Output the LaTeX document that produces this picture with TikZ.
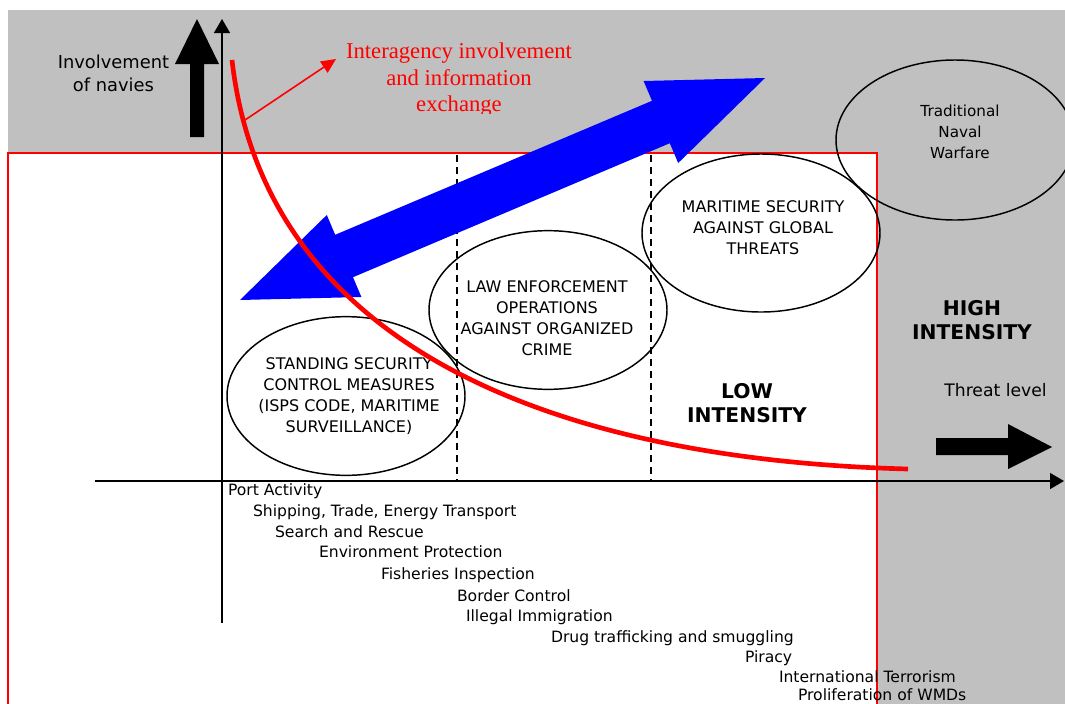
\documentclass[tikz,border=0pt]{standalone}
\usepackage{fontspec}
\setmainfont{DejaVu Sans}
\newfontfamily\redserif{Liberation Serif}
\usetikzlibrary{arrows.meta,shapes.geometric}
\definecolor{bggray}{RGB}{192,192,192}
\definecolor{pureblue}{RGB}{0,0,255}
\definecolor{purered}{RGB}{255,0,0}
\begin{document}
\begin{tikzpicture}[x=0.75pt,y=-0.75pt,
  every node/.style={inner sep=0pt,outer sep=0pt},
  ellnode/.style={draw=black,line width=1.1pt,ellipse,minimum width=178.5pt,minimum height=119pt,inner sep=0pt},
  elltext/.style={align=center,font=\fontsize{12}{15.75}\selectfont},
  listtext/.style={anchor=base west,font=\fontsize{11.7}{14}\selectfont},
  boldtext/.style={align=center,font=\bfseries\fontsize{15.2}{18.5}\selectfont},
  axisline/.style={line width=1.1pt,-{Triangle[length=10.5pt,width=12pt]}},
  dashline/.style={line width=1.1pt,dash pattern=on 5pt off 4pt},
  redborder/.style={draw=purered,line width=1.5pt},
]
\useasboundingbox (0,0) rectangle (1065,704);
% backgrounds
\fill[bggray] (8,10) rectangle (1065,704);
\fill[white] (8,153) rectangle (877,704);
\draw[redborder] (8,712) -- (8,153) -- (877,153) -- (877,712);

% dashed separators
\coordinate (d1t) at (457,155); \coordinate (d1b) at (457,481);
\coordinate (d2t) at (651,155); \coordinate (d2b) at (651,481);
\draw[dashline] (d1t) -- (d1b);
\draw[dashline] (d2t) -- (d2b);

% axes
\coordinate (ybot) at (222,623); \coordinate (ytop) at (222,19);
\coordinate (xl) at (95,481); \coordinate (xr) at (1064,481);
\draw[axisline] (ybot) -- (ytop);
\draw[axisline] (xl) -- (xr);

% ellipses
\node[ellnode] (e1) at (346,396) {};
\node[elltext] (t1) at (349,396) {STANDING SECURITY\\CONTROL MEASURES\\(ISPS CODE, MARITIME\\SURVEILLANCE)};
\node[ellnode] (e2) at (548,310) {};
\node[elltext] (t2) at (547,318) {LAW ENFORCEMENT\\OPERATIONS\\AGAINST ORGANIZED\\CRIME};
\node[ellnode,minimum height=158pt/1.3333] (e3) at (761,233) {};
\node[elltext] (t3) at (763,228) {MARITIME SECURITY\\AGAINST GLOBAL\\THREATS};
\node[ellnode,minimum height=120pt] (e4) at (955,140) {};
\node[elltext,font=\fontsize{11.4}{15.75}\selectfont] (t4) at (960,132) {Traditional\\Naval\\Warfare};

% blue double arrow
\fill[pureblue] (240,300) -- (326.8,215) -- (335.2,234.8) -- (652,100.8) -- (643.6,81) -- (765,78)
  -- (678.2,163) -- (669.8,143.2) -- (353,277.2) -- (361.4,297) -- cycle;

% red curve
\coordinate (cs) at (232,60); \coordinate (ce) at (908,469);
\draw[purered,line width=3.5pt] (cs) .. controls (265,350) and (560,460) .. (ce);

% thin red arrow
\coordinate (ra) at (245,120); \coordinate (rb) at (336,59);
\draw[purered,line width=1.2pt,-{Triangle[length=11pt,width=10pt]}] (ra) -- (rb);

% black up arrow
\fill[black] (190,137) -- (190,64) -- (175,64) -- (197,19) -- (219,64) -- (204,64) -- (204,137) -- cycle;
% black right arrow
\fill[black] (936,438) -- (1008,438) -- (1008,424) -- (1052,447) -- (1008,469) -- (1008,455) -- (936,455) -- cycle;

% labels
\node[align=center,font=\fontsize{13.4}{17.25}\selectfont] (inv) at (113.5,73.5) {Involvement\\of navies};
\begin{scope}
\clip (300,20) rectangle (640,113);
\node[align=center,text=purered,font=\redserif\fontsize{17}{19.9}\selectfont] (inter) at (459,80) {Interagency involvement\\and information\\exchange};
\end{scope}
\node[boldtext] (low) at (747,403) {LOW\\INTENSITY};
\node[boldtext] (high) at (972,320) {HIGH\\INTENSITY};
\node[font=\fontsize{12.9}{15}\selectfont] (thr) at (995.5,390) {Threat level};

% activity list
\node[listtext] (l1) at (228,495) {Port Activity};
\node[listtext] (l2) at (253,516) {Shipping, Trade, Energy Transport};
\node[listtext] (l3) at (275,537) {Search and Rescue};
\node[listtext] (l4) at (319,557) {Environment Protection};
\node[listtext] (l5) at (381,579) {Fisheries Inspection};
\node[listtext] (l6) at (457,601) {Border Control};
\node[listtext] (l7) at (466,621) {Illegal Immigration};
\node[listtext] (l8) at (551,642) {Drug trafficking and smuggling};
\node[listtext] (l9) at (745,662) {Piracy};
\node[listtext] (l10) at (779,682) {International Terrorism};
\node[listtext] (l11) at (798,700) {Proliferation of WMDs};
\end{tikzpicture}
\end{document}
